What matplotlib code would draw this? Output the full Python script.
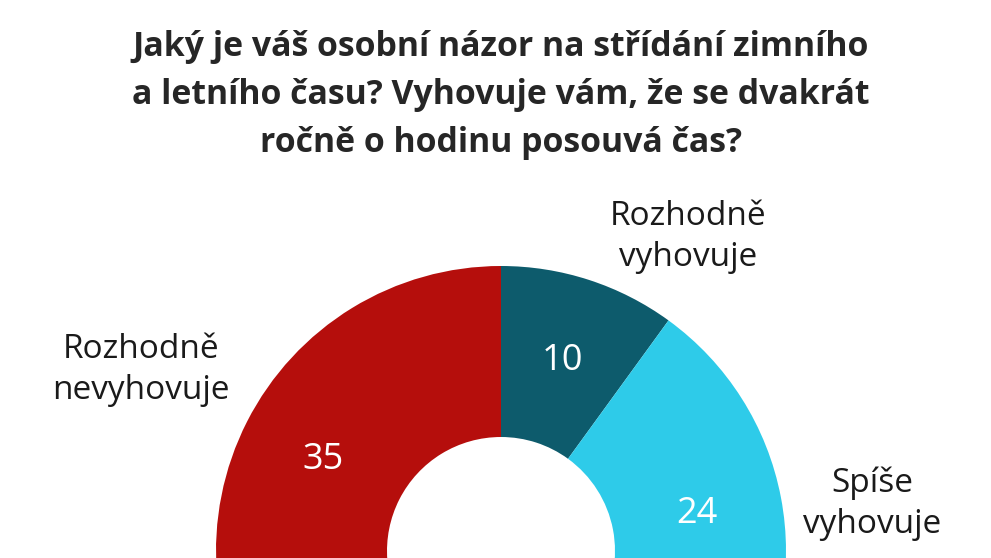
import matplotlib
matplotlib.use('Agg')
import matplotlib.pyplot as plt

plt.rcParams['font.family'] = ['Open Sans', 'DejaVu Sans']

# data (clockwise from 12 o'clock); the third slice is hidden below the crop
kategorie = ['Rozhodně vyhovuje', 'Spíše vyhovuje', 'Ostatní', 'Rozhodně nevyhovuje']
hodnoty = [10, 24, 31, 35]
barvy = ['#0D5B6C', '#2ECBE9', '#F4A6A0', '#B50E0C']
popisky = ['Rozhodně\nvyhovuje', 'Spíše\nvyhovuje', '', 'Rozhodně\nnevyhovuje']
titulek = ('Jaký je váš osobní názor na střídání zimního\n'
           'a letního času? Vyhovuje vám, že se dvakrát\n'
           'ročně o hodinu posouvá čas?')

W, H = 991, 558
fig = plt.figure(figsize=(W / 100, H / 100), dpi=100)
ax = fig.add_axes([0, 0, 1, 1])

stred = (501, H - 551)
polomer = 285

wedges, texts, autotexts = ax.pie(
    hodnoty, colors=barvy, startangle=90, counterclock=False,
    center=stred, radius=polomer, frame=True,
    wedgeprops=dict(width=polomer * 0.6, linewidth=0),
    autopct=lambda p: '{:.0f}'.format(p * sum(hodnoty) / 100),
    pctdistance=0.70,
    textprops=dict(color='white', fontsize=26))
autotexts[2].set_visible(False)  # slice below the visible area
ax.set_xlim(0, W)
ax.set_ylim(0, H)
ax.set_aspect('equal')
ax.axis('off')

# outer labels
pozice = [(688, H - 237), (872, H - 504), None, (141, H - 370)]
for txt, p in zip(popisky, pozice):
    if p is None:
        continue
    ax.text(p[0], p[1], txt, ha='center', va='center', fontsize=24,
            color='#1a1a1a', linespacing=1.3)

fig.text(501 / W, 1 - 95 / H, titulek, ha='center', va='center',
         fontsize=24.4, fontweight='bold', color='#262626', linespacing=1.55)

fig.savefig('out.png', dpi=100)
